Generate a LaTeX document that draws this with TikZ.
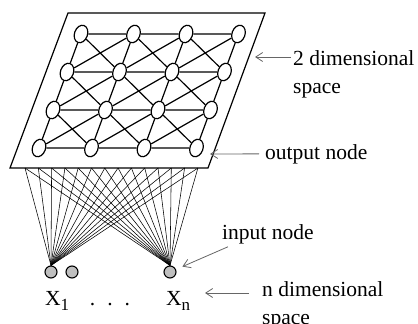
\documentclass[tikz,border=0pt]{standalone}
\usepackage{fontspec}
\setmainfont{Liberation Serif}
\usetikzlibrary{shapes.geometric, positioning, arrows.meta}
\newcommand{\idx}[1]{\raisebox{-5pt}{\fontsize{17}{17}\selectfont #1}}

\begin{document}
\begin{tikzpicture}[x=1pt, y=-1pt,
        every node/.style={font=\fontsize{21.5}{28}\selectfont, inner sep=0pt},
        unit/.style={ellipse, draw, fill=white, line width=1.2pt, minimum width=13pt, minimum height=18pt, rotate=-20},
        input/.style={circle, draw, fill=gray!50, line width=1.1pt, minimum size=12pt},
        link/.style={line width=1.2pt},
        fan/.style={line width=0.55pt},
        arrow/.style={-{Straight Barb[length=7pt, width=9pt]}, black!60, line width=0.8pt}
    ]
\useasboundingbox (0,0) rectangle (418,324);
%
    \draw[link] (68,13) -- (265,13) -- (208,168) -- (10,168) -- cycle;
%
    \foreach \r in {0,...,3}
        \foreach \c in {0,...,3}
            \node[unit] (u\r\c) at ({81+52.5*\c-14*\r}, {34+38*\r}) {};
%
    \foreach \r in {0,...,3}
        \foreach \c/\k in {0/1,1/2,2/3} {
            \draw[link] (u\r\c) -- (u\r\k);
            \draw[link] (u\c\r) -- (u\k\r);
        }
    \foreach \r/\s in {0/1,1/2,2/3}
        \foreach \c/\k in {0/1,1/2,2/3} {
            \draw[link] (u\r\c) -- (u\s\k);
            \draw[link] (u\r\k) -- (u\s\c);
        }
%
    \node[input] (xa) at (51,272) {};
    \node[input] (xb) at (72,272) {};
    \node[input] (xn) at (170,272) {};
%
    \foreach \i in {0,...,13} {
        \coordinate (f\i) at ({25+13.3*\i}, 168);
        \draw[fan] (f\i) -- (xa.north);
        \draw[fan] (f\i) -- (xn.north);
    }
%
    \node[anchor=base west] (lxa) at (45,305) {X\idx{1}};
    \node[anchor=base] (dots) at (110,305) {.\hspace{12pt}.\hspace{12pt}.};
    \node[anchor=base west] (lxn) at (166,305) {X\idx{n}};
%
    \node[anchor=north west, align=left] (space2) at (293,50) {2 dimensional\\space};
    \node[anchor=base west] (outnote) at (265,159) {output node};
    \node[anchor=base west] (innote) at (222,239) {input node};
    \node[anchor=north west, align=left] (spacen) at (262,281.5) {n dimensional\\space};
%
    \coordinate (tip2) at (255,57);
    \coordinate (outtip) at (210,154);
    \coordinate (ntip) at (205,293);
    \draw[arrow] ([xshift=-2pt, yshift=-7pt]space2.north west) -- (tip2);
    \draw[arrow, shorten <=6pt] (outnote.west) -- (outtip);
    \draw[arrow, shorten >=7pt] ([xshift=6pt, yshift=-3pt]innote.south west) -- (xn);
    \draw[arrow] ([xshift=-13pt, yshift=-11.5pt]spacen.north west) -- (ntip);
%
\end{tikzpicture}
\end{document}
